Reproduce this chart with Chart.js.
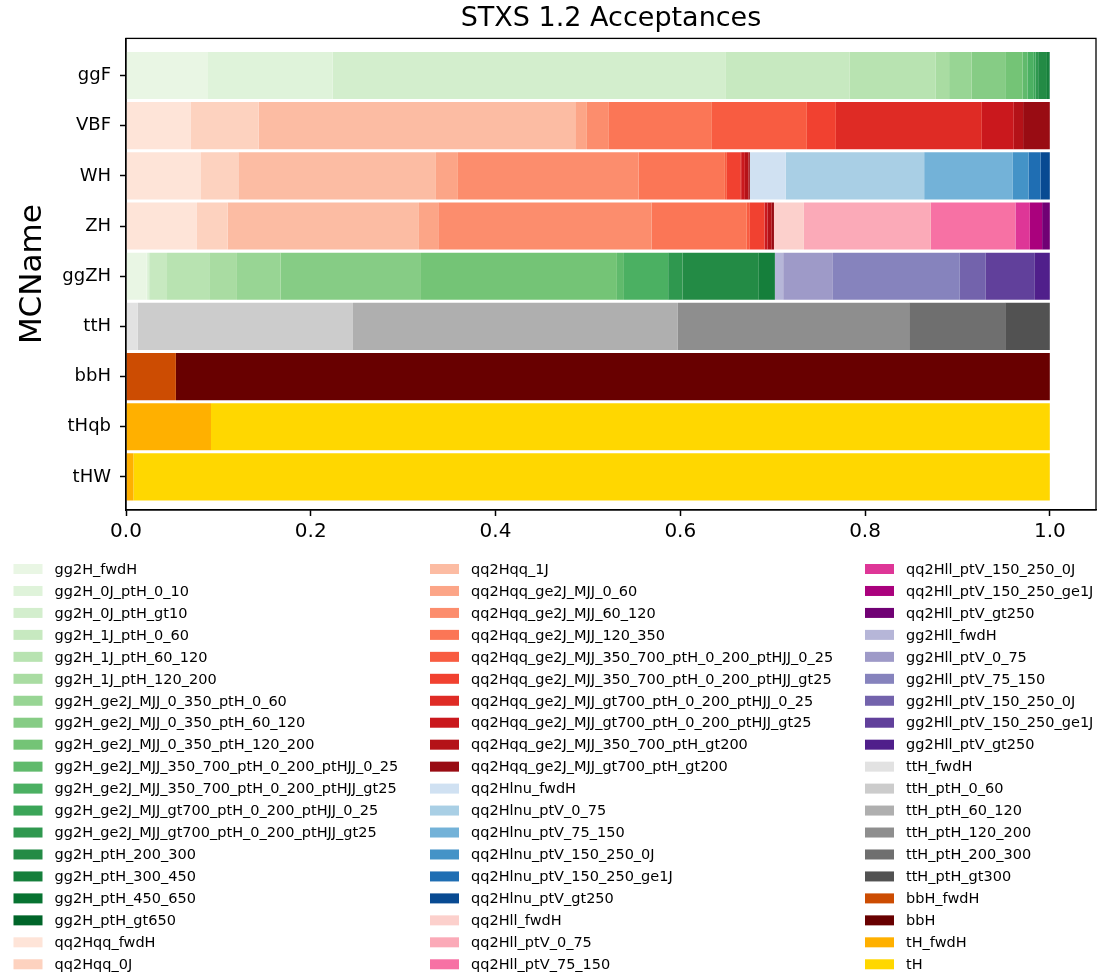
<!DOCTYPE html>
<html><head><meta charset="utf-8">
<script src="https://cdn.jsdelivr.net/npm/chart.js@4/dist/chart.umd.min.js"></script>
<style>html,body{margin:0;padding:0;background:#fff;}#wrap{width:1099px;height:973px;}</style>
</head><body><div id="wrap"><canvas id="c" width="1099" height="973"></canvas></div>
<script>
// ---------- categories ----------
const processes = ['ggF','VBF','WH','ZH','ggZH','ttH','bbH','tHqb','tHW'];
const xTicks = [0.0, 0.2, 0.4, 0.6, 0.8, 1.0];

// ---------- STXS bin names (legend order) ----------
const gg2H_bins = ['gg2H_fwdH','gg2H_0J_ptH_0_10','gg2H_0J_ptH_gt10','gg2H_1J_ptH_0_60','gg2H_1J_ptH_60_120','gg2H_1J_ptH_120_200','gg2H_ge2J_MJJ_0_350_ptH_0_60','gg2H_ge2J_MJJ_0_350_ptH_60_120','gg2H_ge2J_MJJ_0_350_ptH_120_200','gg2H_ge2J_MJJ_350_700_ptH_0_200_ptHJJ_0_25','gg2H_ge2J_MJJ_350_700_ptH_0_200_ptHJJ_gt25','gg2H_ge2J_MJJ_gt700_ptH_0_200_ptHJJ_0_25','gg2H_ge2J_MJJ_gt700_ptH_0_200_ptHJJ_gt25','gg2H_ptH_200_300','gg2H_ptH_300_450','gg2H_ptH_450_650','gg2H_ptH_gt650'];
const qq2Hqq_bins = ['qq2Hqq_fwdH','qq2Hqq_0J','qq2Hqq_1J','qq2Hqq_ge2J_MJJ_0_60','qq2Hqq_ge2J_MJJ_60_120','qq2Hqq_ge2J_MJJ_120_350','qq2Hqq_ge2J_MJJ_350_700_ptH_0_200_ptHJJ_0_25','qq2Hqq_ge2J_MJJ_350_700_ptH_0_200_ptHJJ_gt25','qq2Hqq_ge2J_MJJ_gt700_ptH_0_200_ptHJJ_0_25','qq2Hqq_ge2J_MJJ_gt700_ptH_0_200_ptHJJ_gt25','qq2Hqq_ge2J_MJJ_350_700_ptH_gt200','qq2Hqq_ge2J_MJJ_gt700_ptH_gt200'];
const qq2Hlnu_bins = ['qq2Hlnu_fwdH','qq2Hlnu_ptV_0_75','qq2Hlnu_ptV_75_150','qq2Hlnu_ptV_150_250_0J','qq2Hlnu_ptV_150_250_ge1J','qq2Hlnu_ptV_gt250'];
const qq2Hll_bins = ['qq2Hll_fwdH','qq2Hll_ptV_0_75','qq2Hll_ptV_75_150','qq2Hll_ptV_150_250_0J','qq2Hll_ptV_150_250_ge1J','qq2Hll_ptV_gt250'];
const gg2Hll_bins = ['gg2Hll_fwdH','gg2Hll_ptV_0_75','gg2Hll_ptV_75_150','gg2Hll_ptV_150_250_0J','gg2Hll_ptV_150_250_ge1J','gg2Hll_ptV_gt250'];
const ttH_bins = ['ttH_fwdH','ttH_ptH_0_60','ttH_ptH_60_120','ttH_ptH_120_200','ttH_ptH_200_300','ttH_ptH_gt300'];
const bbH_bins = ['bbH_fwdH','bbH'];
const tH_bins = ['tH_fwdH','tH'];

// ---------- acceptances (fractions per process, aligned with the bin lists) ----------
const ggF_gg2H    = [0.088,0.1357,0.4257,0.1341,0.0931,0.0144,0.0242,0.0365,0.0187,0.0054,0.0069,0.0020,0.0027,0.0095,0.0022,0.0006,0.0003];
const VBF_qq2Hqq  = [0.0703,0.0733,0.3427,0.0126,0.0238,0.1115,0.1028,0.0314,0.158,0.0346,0.0101,0.0289];
const WH_qq2Hqq   = [0.0812,0.0404,0.2139,0.0238,0.1956,0.0934,0.0021,0.0145,0.0010,0.0040,0.0040,0.0014];
const WH_qq2Hlnu  = [0.0387,0.150,0.096,0.017,0.013,0.010];
const ZH_qq2Hqq   = [0.0768,0.0332,0.2071,0.0209,0.2309,0.1031,0.0033,0.0155,0.0005,0.0031,0.0046,0.0024];
const ZH_qq2Hll   = [0.0324,0.1374,0.0916,0.0156,0.0133,0.0083];
const ggZH_gg2H   = [0.0224,0.0016,0.0020,0.0184,0.0465,0.0292,0.0473,0.1519,0.2121,0.0076,0.0479,0,0.0155,0.0826,0.0174,0,0];
const ggZH_gg2Hll = [0.0090,0.0538,0.1374,0.0281,0.0531,0.0162];
const ttH_ttH     = [0.0126,0.2331,0.3517,0.2504,0.1039,0.0483];
const bbH_bbH     = [0.054,0.946];
const tHqb_tH     = [0.092,0.908];
const tHW_tH      = [0.008,0.992];

// ---------- colours ----------
const CM = {
  Greens:['#f7fcf5','#e5f5e0','#c7e9c0','#a1d99b','#74c476','#41ab5d','#238b45','#006d2c','#00441b'],
  Reds:['#fff5f0','#fee0d2','#fcbba1','#fc9272','#fb6a4a','#ef3b2c','#cb181d','#a50f15','#67000d'],
  Blues:['#f7fbff','#deebf7','#c6dbef','#9ecae1','#6baed6','#4292c6','#2171b5','#08519c','#08306b'],
  RdPu:['#fff7f3','#fde0dd','#fcc5c0','#fa9fb5','#f768a1','#dd3497','#ae017e','#7a0177','#49006a'],
  Purples:['#fcfbfd','#efedf5','#dadaeb','#bcbddc','#9e9ac8','#807dba','#6a51a3','#54278f','#3f007d'],
  Greys:['#ffffff','#f0f0f0','#d9d9d9','#bdbdbd','#969696','#737373','#525252','#252525','#000000']
};
function hex2rgb(h){return [1,3,5].map(i=>parseInt(h.substr(i,2),16));}
function cmap(name,t){
  const a=CM[name]; const p=t*(a.length-1); const i=Math.min(Math.floor(p),a.length-2); const f=p-i;
  const c0=hex2rgb(a[i]), c1=hex2rgb(a[i+1]);
  const c=c0.map((v,k)=>Math.round(v+(c1[k]-v)*f));
  return 'rgb('+c.join(',')+')';
}
function sample(name,t0,t1,n){const out=[];for(let i=0;i<n;i++)out.push(cmap(name,t0+(t1-t0)*i/(n-1)));return out;}

const groups = [
  {bins:gg2H_bins,   colors:sample('Greens',0.1,0.9,17)},
  {bins:qq2Hqq_bins, colors:sample('Reds',0.1,0.9,12)},
  {bins:qq2Hlnu_bins,colors:sample('Blues',0.2,0.9,6)},
  {bins:qq2Hll_bins, colors:sample('RdPu',0.2,0.9,6)},
  {bins:gg2Hll_bins, colors:sample('Purples',0.4,0.9,6)},
  {bins:ttH_bins,    colors:sample('Greys',0.2,0.75,6)},
  {bins:bbH_bins,    colors:['#cc4c02','#680000']},
  {bins:tH_bins,     colors:['#ffb000','#ffd700']}
];

const contributions = [
  {proc:'ggF',  bins:gg2H_bins,   vals:ggF_gg2H},
  {proc:'VBF',  bins:qq2Hqq_bins, vals:VBF_qq2Hqq},
  {proc:'WH',   bins:qq2Hqq_bins, vals:WH_qq2Hqq},
  {proc:'WH',   bins:qq2Hlnu_bins,vals:WH_qq2Hlnu},
  {proc:'ZH',   bins:qq2Hqq_bins, vals:ZH_qq2Hqq},
  {proc:'ZH',   bins:qq2Hll_bins, vals:ZH_qq2Hll},
  {proc:'ggZH', bins:gg2H_bins,   vals:ggZH_gg2H},
  {proc:'ggZH', bins:gg2Hll_bins, vals:ggZH_gg2Hll},
  {proc:'ttH',  bins:ttH_bins,    vals:ttH_ttH},
  {proc:'bbH',  bins:bbH_bins,    vals:bbH_bbH},
  {proc:'tHqb', bins:tH_bins,     vals:tHqb_tH},
  {proc:'tHW',  bins:tH_bins,     vals:tHW_tH}
];

const datasets = [];
groups.forEach(g => g.bins.forEach((b, k) => {
  const data = [];
  contributions.forEach(c => {
    const j = c.bins.indexOf(b);
    if (j >= 0 && c.vals[j] > 0) data.push({x: c.vals[j], y: processes.indexOf(c.proc)});
  });
  datasets.push({label: b, data, backgroundColor: g.colors[k], borderWidth: 0,
                 categoryPercentage: 1.0, barPercentage: 0.94});
}));

const FONT = 'DejaVu Sans';

const framePlugin = {
  id: 'frame',
  afterDraw(chart) {
    const {ctx, chartArea: a} = chart;
    ctx.save(); ctx.strokeStyle = '#000'; ctx.lineWidth = 1.3;
    ctx.strokeRect(a.left, a.top, a.right - a.left, a.bottom - a.top);
    ctx.restore();
  }
};

const legendPlugin = {
  id: 'colLegend',
  afterDraw(chart) {
    const ctx = chart.ctx;
    const colX = [13.5, 430, 865];
    const perCol = 19, y0 = 569, dy = 21.96;
    ctx.save();
    ctx.font = '14.5px "' + FONT + '"';
    ctx.textBaseline = 'middle'; ctx.textAlign = 'left';
    chart.data.datasets.forEach((ds, i) => {
      const col = Math.floor(i / perCol), row = i % perCol;
      const x = colX[col], y = y0 + row * dy;
      ctx.fillStyle = ds.backgroundColor;
      ctx.fillRect(x, y - 5, 29, 10);
      ctx.fillStyle = '#000';
      ctx.fillText(ds.label, x + 41, y + 1);
    });
    ctx.restore();
  }
};

const bg = {id:'bg', beforeDraw(c){const x=c.ctx;x.save();x.fillStyle='#fff';x.fillRect(0,0,c.width,c.height);x.restore();}};

new Chart(document.getElementById('c'), {
  type: 'bar',
  data: {datasets},
  options: {
    indexAxis: 'y',
    responsive: false,
    animation: false,
    devicePixelRatio: 1,
    layout: {padding: {left: 0, right: 3, top: 0, bottom: 413}},
    plugins: {
      legend: {display: false},
      tooltip: {enabled: false},
      title: {display: true, fullSize: false, text: 'STXS 1.2 Acceptances', color: '#000',
              font: {family: FONT, size: 27, weight: 'normal'}, padding: {top: 3, bottom: 3}}
    },
    scales: {
      x: {
        type: 'linear', stacked: true, min: 0, max: 1.05, offset: false,
        afterBuildTicks: s => { s.ticks = xTicks.map(v => ({value: v})); },
        afterFit: s => { s.height = 50; },
        ticks: {callback: v => Number(v).toFixed(1), color: '#000', font: {family: FONT, size: 20},
                padding: 4, maxRotation: 0, autoSkip: false},
        grid: {drawOnChartArea: false, drawTicks: true, tickLength: 6, color: '#000', tickWidth: 1.5, offset: false},
        border: {display: true, color: '#000', width: 1.3}
      },
      y: {
        type: 'linear', stacked: true, reverse: true, min: -0.74, max: 8.66, offset: false,
        afterBuildTicks: s => { s.ticks = processes.map((p, i) => ({value: i})); },
        afterFit: s => { s.width = 126; },
        ticks: {callback: v => processes[v], color: '#000', font: {family: FONT, size: 18}, padding: 9, autoSkip: false},
        grid: {drawOnChartArea: false, drawTicks: true, tickLength: 6, color: '#000', tickWidth: 1.5, offset: false},
        border: {display: true, color: '#000', width: 1.3},
        title: {display: true, text: 'MCName', color: '#000', font: {family: FONT, size: 31}, padding: {top: 14, bottom: 0}}
      }
    }
  },
  plugins: [bg, framePlugin, legendPlugin]
});
</script></body></html>
